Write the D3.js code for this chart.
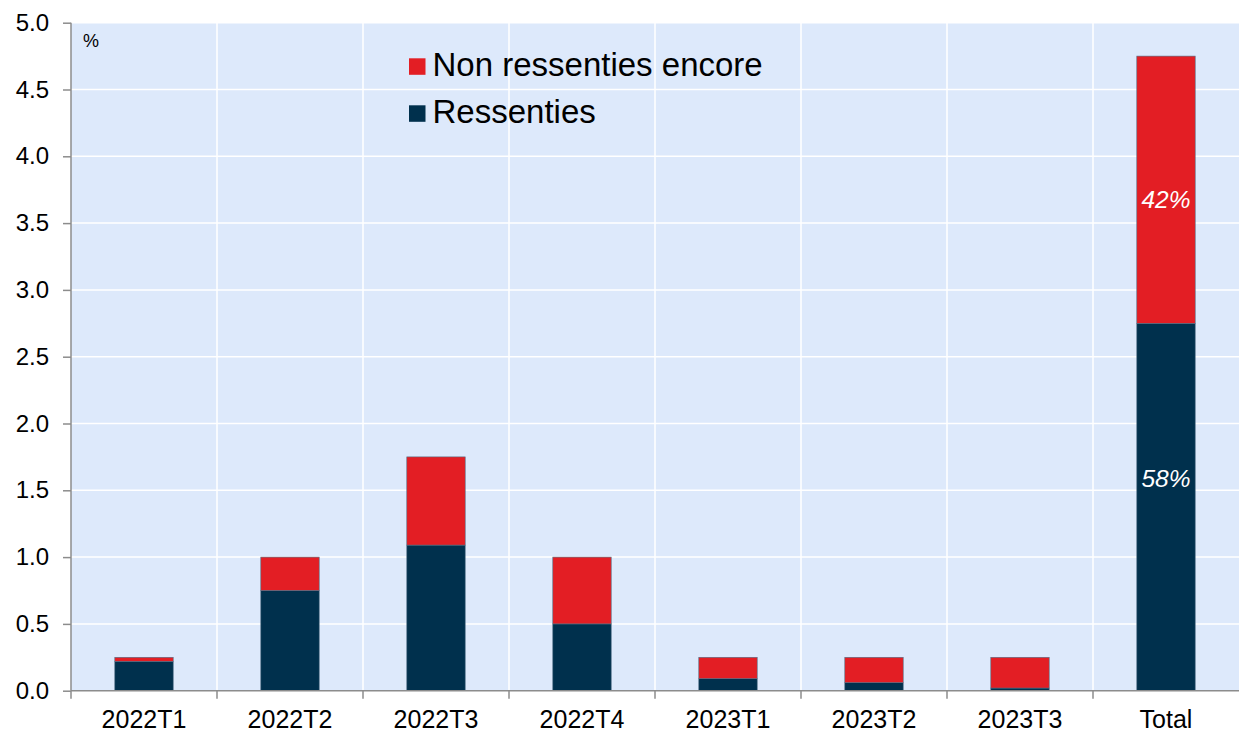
<!DOCTYPE html>
<html>
<head>
<meta charset="utf-8">
<script src="https://cdn.jsdelivr.net/npm/d3@7"></script>
<style>
  body { margin: 0; background: #fff; }
  svg { display: block; font-family: "Liberation Sans", Arial, sans-serif; }
</style>
</head>
<body>
<div id="wrapper"></div>
<script>
// data
const categories = ["2022T1", "2022T2", "2022T3", "2022T4", "2023T1", "2023T2", "2023T3", "Total"]
const ressenties = [0.22, 0.75, 1.09, 0.5, 0.09, 0.06, 0.02, 2.75]
const nonRessenties = [0.03, 0.25, 0.66, 0.5, 0.16, 0.19, 0.23, 2.0]
const yTicks = [0, 0.5, 1, 1.5, 2, 2.5, 3, 3.5, 4, 4.5, 5]
const totalLabels = [
  { key: "ressenties", text: "58%", at: 1.59 },
  { key: "non", text: "42%", at: 3.68 },
]
const seriesNames = { non: "Non ressenties encore", ressenties: "Ressenties" }

const colors = { non: "#e31e24", ressenties: "#00304d" }

async function drawBars() {
  const dimensions = {
    width: 1239,
    height: 733,
    margin: { top: 22.7, right: 0, bottom: 42.3, left: 71 },
  }
  dimensions.boundedWidth = dimensions.width - dimensions.margin.left - dimensions.margin.right
  dimensions.boundedHeight = dimensions.height - dimensions.margin.top - dimensions.margin.bottom

  const rows = categories.map((c, i) => ({
    category: c,
    ressenties: ressenties[i],
    non: nonRessenties[i],
  }))

  const stack = d3.stack().keys(["ressenties", "non"])
  const stacked = stack(rows)

  const wrapper = d3.select("#wrapper")
    .append("svg")
    .attr("width", dimensions.width)
    .attr("height", dimensions.height)

  const bounds = wrapper.append("g")
    .attr("transform", `translate(${dimensions.margin.left},${dimensions.margin.top})`)

  // scales
  const xScale = d3.scaleBand()
    .domain(categories)
    .range([0, dimensions.boundedWidth])
    .padding(0)

  const barScale = d3.scaleBand()
    .domain(categories)
    .range([0, dimensions.boundedWidth])
    .paddingInner(0.6)
    .paddingOuter(0.3)

  const yScale = d3.scaleLinear()
    .domain([0, 5])
    .range([dimensions.boundedHeight, 0])

  // plot background
  bounds.append("rect")
    .attr("width", dimensions.boundedWidth)
    .attr("height", dimensions.boundedHeight)
    .attr("fill", "#dde9fb")

  // grid
  bounds.append("g")
    .selectAll("line")
    .data(yTicks.slice(1))
    .join("line")
      .attr("x1", 0)
      .attr("x2", dimensions.boundedWidth)
      .attr("y1", d => yScale(d))
      .attr("y2", d => yScale(d))
      .attr("stroke", "#fff")
      .attr("stroke-width", 1.5)

  bounds.append("g")
    .selectAll("line")
    .data(categories.slice(1))
    .join("line")
      .attr("x1", d => xScale(d))
      .attr("x2", d => xScale(d))
      .attr("y1", 0)
      .attr("y2", dimensions.boundedHeight)
      .attr("stroke", "#fff")
      .attr("stroke-width", 1.5)

  // bars
  bounds.append("g")
    .selectAll("g")
    .data(stacked)
    .join("g")
      .attr("fill", d => colors[d.key])
    .selectAll("rect")
    .data(d => d)
    .join("rect")
      .attr("x", d => barScale(d.data.category))
      .attr("width", barScale.bandwidth())
      .attr("y", d => yScale(d[1]))
      .attr("height", d => yScale(d[0]) - yScale(d[1]))
      .attr("stroke", "#4f6f86")
      .attr("stroke-width", 0.6)

  // labels on Total bar
  bounds.append("g")
    .selectAll("text")
    .data(totalLabels)
    .join("text")
      .attr("x", barScale("Total") + barScale.bandwidth() / 2)
      .attr("y", d => yScale(d.at))
      .attr("dy", "0.35em")
      .attr("text-anchor", "middle")
      .attr("fill", "#fff")
      .style("font-style", "italic")
      .style("font-size", "24.5px")
      .text(d => d.text)

  // axes
  const yAxisGenerator = d3.axisLeft(yScale)
    .tickValues(yTicks)
    .tickFormat(d3.format(".1f"))
    .tickSize(8)
    .tickPadding(14)

  const yAxis = bounds.append("g").call(yAxisGenerator)
  yAxis.select(".domain").attr("stroke", "#8c8c8c").attr("stroke-width", 1.5)
    .attr("d", `M0,0V${dimensions.boundedHeight}`)
  yAxis.selectAll(".tick line").attr("stroke", "#8c8c8c").attr("stroke-width", 1.5)
  yAxis.selectAll(".tick text")
    .style("font-size", "24px")
    .attr("fill", "#000")

  const xAxisGenerator = d3.axisBottom(xScale)
    .tickSize(0)
    .tickPadding(37)

  const xAxis = bounds.append("g")
    .attr("transform", `translate(0,${dimensions.boundedHeight})`)
    .call(xAxisGenerator)
  xAxis.select(".domain").attr("stroke", "#8c8c8c").attr("stroke-width", 1.5)
    .attr("d", `M0,0H${dimensions.boundedWidth}`)
  xAxis.selectAll(".tick text")
    .style("font-size", "25px")
    .attr("fill", "#000")
    .attr("dy", "0")

  // category boundary ticks
  xAxis.append("g")
    .selectAll("line")
    .data(categories)
    .join("line")
      .attr("x1", d => xScale(d))
      .attr("x2", d => xScale(d))
      .attr("y1", 0)
      .attr("y2", 8)
      .attr("stroke", "#8c8c8c")
      .attr("stroke-width", 1.5)

  // unit
  bounds.append("text")
    .attr("x", 12)
    .attr("y", 24.3)
    .style("font-size", "18px")
    .text("%")

  // legend
  const legend = bounds.append("g")
    .attr("transform", `translate(${409 - dimensions.margin.left},${58.3 - dimensions.margin.top})`)

  const legendItems = legend.selectAll("g")
    .data(["non", "ressenties"])
    .join("g")
      .attr("transform", (d, i) => `translate(0,${i * 47})`)

  legendItems.append("rect")
    .attr("width", 16.5)
    .attr("height", 16.5)
    .attr("fill", d => colors[d])

  legendItems.append("text")
    .attr("x", 23.5)
    .attr("y", 17.7)
    .style("font-size", "33px")
    .attr("fill", "#000")
    .text(d => seriesNames[d])
}
drawBars()
</script>
</body>
</html>
